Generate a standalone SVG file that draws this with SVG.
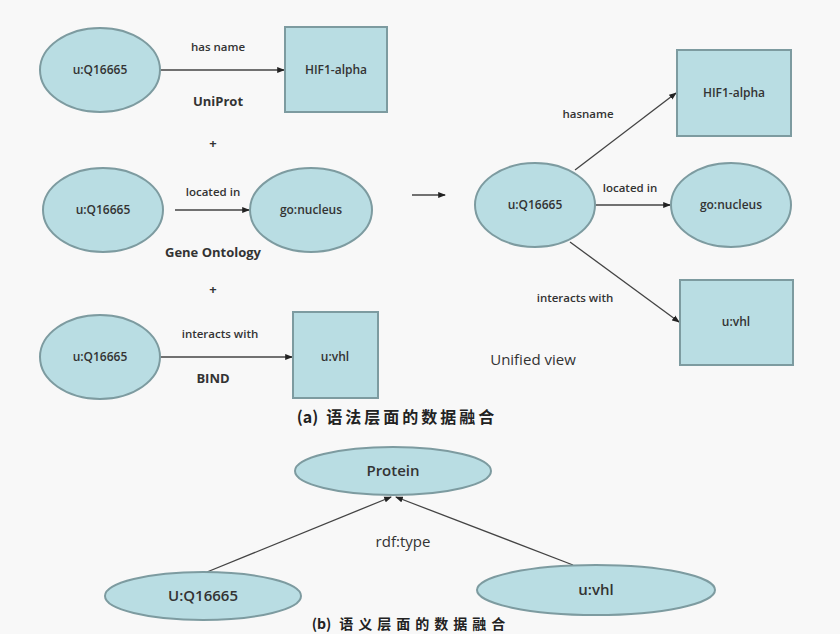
<svg xmlns="http://www.w3.org/2000/svg" width="840" height="634" viewBox="0 0 840 634">
<defs>
<style>
.n{fill:#b9dde3;stroke:#7d9ba0;stroke-width:2}
.e{stroke:#444;stroke-width:1.3;fill:none}
.t{font-family:"Open Sans","Liberation Sans",sans-serif;fill:#333;text-anchor:middle}
.nl{font-size:12px;font-weight:600}
.el{font-size:11.5px;font-weight:600}
.src{font-size:13px;font-weight:700}
.big{font-size:15px}
.cap{font-family:"Noto Sans CJK SC","Liberation Sans",sans-serif;font-weight:700;fill:#222;text-anchor:middle}
</style>
<marker id="a" viewBox="0 0 8 8" refX="7" refY="4" markerWidth="6" markerHeight="6" orient="auto">
<path d="M0,1 L8,4 L0,7 z" fill="#222"/>
</marker>
</defs>
<rect width="840" height="634" fill="#f8f8f8"/>
<g id="connectors">
<line class="e" x1="160" y1="70" x2="284" y2="70" marker-end="url(#a)"/>
<line class="e" x1="175" y1="210" x2="249" y2="210" marker-end="url(#a)"/>
<line class="e" x1="160" y1="357" x2="292" y2="357" marker-end="url(#a)"/>
<line class="e" x1="412" y1="195" x2="445" y2="195" marker-end="url(#a)"/>
<line class="e" x1="575" y1="170" x2="676" y2="93" marker-end="url(#a)"/>
<line class="e" x1="595" y1="205" x2="670" y2="205" marker-end="url(#a)"/>
<line class="e" x1="570" y1="242" x2="679" y2="322" marker-end="url(#a)"/>
<line class="e" x1="207" y1="572" x2="391" y2="497" marker-end="url(#a)" stroke="#666"/>
<line class="e" x1="573" y1="565" x2="396" y2="497" marker-end="url(#a)" stroke="#666"/>
<text class="t el" x="218" y="51">has name</text>
<text class="t el" x="213" y="196">located in</text>
<text class="t el" x="220" y="338">interacts with</text>
<text class="t el" x="588" y="118">hasname</text>
<text class="t el" x="630" y="192">located in</text>
<text class="t el" x="575" y="302">interacts with</text>
<text class="t big" x="403" y="547" fill="#555">rdf:type</text>
</g>
<g id="n1"><ellipse class="n" cx="100" cy="70" rx="60" ry="42"/><text class="t nl" x="100" y="74">u:Q16665</text></g>
<g id="n2"><rect class="n" x="285" y="27" width="102" height="85"/><text class="t nl" x="336" y="74">HIF1-alpha</text></g>
<g id="n3"><ellipse class="n" cx="103" cy="210" rx="60" ry="42"/><text class="t nl" x="103" y="214">u:Q16665</text></g>
<g id="n4"><ellipse class="n" cx="311" cy="210" rx="61" ry="42"/><text class="t nl" x="311" y="214">go:nucleus</text></g>
<g id="n5"><ellipse class="n" cx="100" cy="357" rx="60" ry="42"/><text class="t nl" x="100" y="361">u:Q16665</text></g>
<g id="n6"><rect class="n" x="293" y="312" width="85" height="86"/><text class="t nl" x="335" y="361">u:vhl</text></g>
<g id="n7"><ellipse class="n" cx="535" cy="205" rx="60" ry="42"/><text class="t nl" x="535" y="209">u:Q16665</text></g>
<g id="n8"><rect class="n" x="677" y="50" width="114" height="86"/><text class="t nl" x="734" y="97">HIF1-alpha</text></g>
<g id="n9"><ellipse class="n" cx="731" cy="205" rx="60" ry="42"/><text class="t nl" x="731" y="209">go:nucleus</text></g>
<g id="n10"><rect class="n" x="680" y="280" width="113" height="85"/><text class="t nl" x="736" y="326">u:vhl</text></g>
<g id="n11"><ellipse class="n" cx="393" cy="471" rx="98" ry="24"/><text class="t big" x="393" y="476" font-weight="600">Protein</text></g>
<g id="n12"><ellipse class="n" cx="203" cy="596" rx="98" ry="24"/><text class="t big" x="203" y="601" font-weight="600">U:Q16665</text></g>
<g id="n13"><ellipse class="n" cx="596" cy="590" rx="119" ry="25"/><text class="t big" x="596" y="595" font-weight="600">u:vhl</text></g>
<g id="labels">
<text class="t src" x="218" y="106">UniProt</text>
<text class="t src" x="213" y="148">+</text>
<text class="t src" x="213" y="257">Gene Ontology</text>
<text class="t src" x="213" y="294">+</text>
<text class="t src" x="213" y="383">BIND</text>
<text class="t big" x="533" y="365" fill="#555">Unified view</text>
<text class="cap" x="397" y="423" font-size="16">(a)<tspan dx="8" letter-spacing="3">语法层面的数据融合</tspan></text>
<text class="cap" x="411" y="629" font-size="14">(b)<tspan dx="8" letter-spacing="5">语义层面的数据融合</tspan></text>
</g>
</svg>
